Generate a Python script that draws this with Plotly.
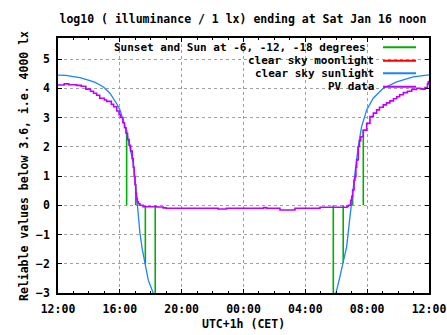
import plotly.graph_objects as go

# ---------------- data ----------------
# hours after 12:00 (Fri) until 12:00 (Sat)
tick_hours = [0, 4, 8, 12, 16, 20, 24]
tick_labels = ["12:00", "16:00", "20:00", "00:00", "04:00", "08:00", "12:00"]
y_ticks = [-3, -2, -1, 0, 1, 2, 3, 4, 5]

# clear sky sunlight (blue)
sun_h = [0, 0.5, 1.0, 1.42, 2.07, 2.4, 2.72, 3.0, 3.36, 3.6, 3.8, 4.01, 4.22, 4.4, 4.55,
         4.7, 4.87, 4.97, 5.05, 5.13, 5.19, 5.3, 5.45, 5.63, 5.84, 6.16, 6.3,
         None,
         17.9, 17.98, 18.24, 18.45, 18.67, 18.84, 19.0, 19.21, 19.42, 19.64, 19.97,
         20.39, 21.04, 21.91, 22.98, 24]
sun_v = [4.45, 4.44, 4.40, 4.36, 4.26, 4.20, 4.11, 4.02, 3.83, 3.65, 3.47, 3.26, 2.91, 2.58, 2.23,
         1.85, 1.43, 0.98, 0.52, -0.05, -0.27, -0.95, -1.5, -1.97, -2.56, -3.0, -3.3,
         None,
         -3.3, -3.0, -2.44, -1.97, -1.42, -0.62, 0.18, 1.09, 2.0, 2.69, 3.26,
         3.66, 4.0, 4.22, 4.39, 4.46]

# PV data (purple)
pv_h = [0.0, 0.4, 0.7, 1.2, 1.5, 1.8, 2.1, 2.3, 2.5, 2.7, 3.0, 3.15, 3.45, 3.6, 3.8, 3.95,
        4.05, 4.2, 4.3, 4.4, 4.5, 4.6, 4.7, 4.8, 4.87, 4.93, 4.98, 5.03, 5.08, 5.13, 5.2,
        5.3, 5.5, 6.4, 6.8, 7.0, 10.35, 10.9, 13.3, 13.5, 14.36, 15.33, 16.09, 16.95,
        18.56, 18.7, 18.78, 18.93, 19.0, 19.06, 19.15, 19.21, 19.27, 19.32, 19.42, 19.5,
        19.58, 19.75, 19.97, 20.18, 20.4, 20.61, 20.8, 21.04, 21.25, 21.47, 21.7, 21.91,
        22.1, 22.34, 22.6, 22.88, 23.2, 23.45, 23.6, 23.74, 23.9, 23.95, 24.0]
pv_v = [4.11, 4.15, 4.12, 4.10, 4.07, 3.97, 3.90, 3.83, 3.76, 3.66, 3.60, 3.55, 3.45, 3.37, 3.22, 3.10,
        3.00, 2.82, 2.65, 2.46, 2.25, 2.05, 1.85, 1.60, 1.30, 0.98, 0.70, 0.41, 0.22, 0.12, 0.05,
        0.0, -0.05, -0.06, -0.09, -0.1, -0.13, -0.1, -0.08, -0.1, -0.16, -0.1, -0.1, -0.07,
        -0.07, -0.03, 0.0, 0.17, 0.3, 0.52, 0.85, 0.98, 1.3, 1.55, 2.0, 2.2,
        2.34, 2.57, 2.80, 3.03, 3.15, 3.26, 3.35, 3.43, 3.50, 3.57, 3.64, 3.71,
        3.78, 3.85, 3.90, 3.96, 4.0, 3.98, 3.97, 4.02, 4.15, 4.22, 4.26]

# sunset / sunrise and Sun at -6, -12, -18 degrees (green impulses)
event_h = [4.44, 5.03, 5.65, 6.29, 17.81, 18.45, 19.06, 19.75]
event_top = [2.57, 0.5, -2.0, -3.3, -3.3, -1.97, 0.35, 2.57]

legend_labels = ["Sunset and Sun at -6, -12, -18 degrees", "clear sky moonlight",
                 "clear sky sunlight", "PV data"]

# ---------------- styling ----------------
GREEN = "#00b000"
RED = "#ff0000"
BLUE = "#1a84ff"
PURPLE = "#c000ff"
FONT = dict(family="DejaVu Sans Mono", size=11.5, color="black", weight="bold")
KEYFONT = dict(family="DejaVu Sans Mono", size=11, color="black", weight="bold")

W, H = 447, 335
L, R, T, B = 58, 429, 38, 293

def px(x):
    return (x - L) / (R - L)

def py(y):
    return (B - y) / (B - T)

fig = go.Figure()

# green impulses
gx, gy = [], []
for h, top in zip(event_h, event_top):
    gx += [h, h, None]
    gy += [0, top, None]
fig.add_trace(go.Scatter(x=gx, y=gy, mode="lines", line=dict(color=GREEN, width=1.6),
                         showlegend=False, hoverinfo="skip"))

fig.add_trace(go.Scatter(x=sun_h, y=sun_v, mode="lines", line=dict(color=BLUE, width=1.3),
                         showlegend=False, connectgaps=False))
fig.add_trace(go.Scatter(x=pv_h, y=pv_v, mode="lines", line=dict(color=PURPLE, width=1.6, shape="hv"),
                         showlegend=False))

# opaque key background (hides grid)
fig.add_shape(type="rect", xref="paper", yref="paper", x0=px(101), x1=px(421), y0=py(93), y1=1,
              fillcolor="white", line=dict(width=0), layer="between")

legend_colors = [GREEN, RED, BLUE, PURPLE]
legend_y = [47.3, 60.7, 73.3, 86.7]
legend_right = [368, 376, 376, 376]
for lab, col, yy, xr in zip(legend_labels, legend_colors, legend_y, legend_right):
    fig.add_annotation(x=px(xr), y=py(yy), xref="paper", yref="paper", text=lab,
                       showarrow=False, xanchor="right", yanchor="middle", font=KEYFONT)
    fig.add_shape(type="line", xref="paper", yref="paper", x0=px(383), x1=px(416),
                  y0=py(yy), y1=py(yy), line=dict(color=col, width=2))

# axis titles
fig.add_annotation(x=px(24), y=py(166), xref="paper", yref="paper",
                   text="Reliable values below 3.6, i.e. 4000 lx", textangle=-90,
                   showarrow=False, xanchor="center", yanchor="middle", font=FONT)
fig.add_annotation(x=px(243), y=py(324), xref="paper", yref="paper",
                   text="UTC+1h (CET)",
                   showarrow=False, xanchor="center", yanchor="middle", font=FONT)
fig.update_layout(
    width=W, height=H,
    margin=dict(l=L, r=W - R, t=T, b=H - B, pad=0, autoexpand=False),
    paper_bgcolor="white", plot_bgcolor="white",
    title=dict(text="log10 ( illuminance / 1 lx) ending at Sat Jan 16 noon",
               x=243 / W, xanchor="center", y=1 - 18.5 / H, yanchor="middle",
               xref="container", yref="container", font=FONT),
    xaxis=dict(range=[0, 24], tickvals=tick_hours, ticktext=tick_labels, automargin=False,
               ticks="inside", ticklen=4, tickcolor="black", tickwidth=1,
               minor=dict(dtick=1, tick0=0, ticks="inside", ticklen=2, tickcolor="black", showgrid=False),
               showline=True, linecolor="black", linewidth=1.5, mirror="ticks",
               showgrid=True, gridcolor="#a0a0a0", griddash="3px,3px", gridwidth=1,
               zeroline=False, tickfont=FONT, ticklabelstandoff=4),
    yaxis=dict(range=[-3, 5.718], tickvals=y_ticks, automargin=False,
               ticks="inside", ticklen=4, tickcolor="black", tickwidth=1,
               showline=True, linecolor="black", linewidth=1.5, mirror="ticks",
               showgrid=True, gridcolor="#a0a0a0", griddash="3px,3px", gridwidth=1,
               zeroline=False, tickfont=FONT, ticklabelstandoff=4),
    showlegend=False,
)

fig.write_html("out.html")
